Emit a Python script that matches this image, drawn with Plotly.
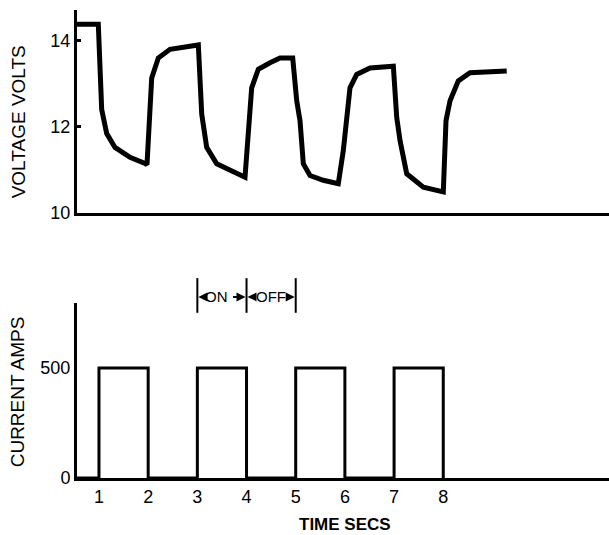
import plotly.graph_objects as go

# ---- data ----
volt_t = [0.553, 0.986, 1.055, 1.157, 1.326, 1.631, 1.936, 1.976,
          2.072, 2.206, 2.444, 3.020,
          3.089, 3.190, 3.394, 3.731, 3.969,
          4.105, 4.240, 4.477, 4.681, 4.939,
          5.020, 5.087, 5.155, 5.291, 5.561, 5.866,
          5.968, 6.104, 6.240, 6.511, 6.985,
          7.054, 7.121, 7.257, 7.595, 8.001,
          8.056, 8.138, 8.306, 8.544, 9.290]
volt_v = [14.37, 14.37, 12.40, 11.84, 11.52, 11.29, 11.15, 11.12,
          13.13, 13.59, 13.79, 13.89,
          12.29, 11.52, 11.14, 10.95, 10.83,
          12.90, 13.33, 13.48, 13.59, 13.59,
          12.60, 12.14, 11.14, 10.87, 10.76, 10.68,
          11.45, 12.90, 13.21, 13.36, 13.40,
          12.21, 11.68, 10.91, 10.60, 10.49,
          12.14, 12.60, 13.06, 13.25, 13.29]

cur_t = [0.553, 1, 1, 2, 2, 3, 3, 4, 4, 5, 5, 6, 6, 7, 7, 8, 8]
cur_a = [0, 0, 500, 500, 0, 0, 500, 500, 0, 0, 500, 500, 0, 0, 500, 500, 0]

volt_ticks = [10, 12, 14]
cur_ticks = [0, 500]
time_ticks = [1, 2, 3, 4, 5, 6, 7, 8]

on_off_bars = [3, 4, 5]
FONT = "Liberation Sans, Arial, sans-serif"

fig = go.Figure()
fig.add_trace(go.Scatter(x=volt_t, y=volt_v, mode="lines",
                         line=dict(color="black", width=5),
                         xaxis="x", yaxis="y", showlegend=False, hoverinfo="skip"))
fig.add_trace(go.Scatter(x=cur_t, y=cur_a, mode="lines",
                         line=dict(color="black", width=3),
                         xaxis="x2", yaxis="y2", showlegend=False, hoverinfo="skip"))

for b in on_off_bars:
    fig.add_shape(type="line", xref="x2", yref="paper", x0=b, x1=b,
                  y0=0.353, y1=0.427, line=dict(color="black", width=2))

MARK_Y = 0.387
# arrowheads: (tip x, tail offset in px)
arrows = [(3, 6), (4, -15), (4, 6), (5, -6)]
for tip, off in arrows:
    fig.add_annotation(x=tip, y=MARK_Y, xref="x2", yref="paper", text="",
                       showarrow=True, axref="pixel", ayref="pixel", ax=off, ay=0,
                       arrowhead=2, arrowsize=0.9, arrowwidth=2, arrowcolor="black",
                       standoff=1)

fig.add_annotation(x=3.39, y=MARK_Y, xref="x2", yref="paper", text="ON",
                   showarrow=False, xanchor="center", yanchor="middle",
                   font=dict(size=15, color="black", family=FONT))
fig.add_annotation(x=4.5, y=MARK_Y, xref="x2", yref="paper", text="OFF",
                   showarrow=False, xanchor="center", yanchor="middle",
                   font=dict(size=15, color="black", family=FONT))

fig.add_annotation(x=-0.11, y=0.761, xref="paper", yref="paper", text="VOLTAGE VOLTS",
                   textangle=-90, showarrow=False, xanchor="center", yanchor="middle",
                   font=dict(size=19, color="black", family=FONT))
fig.add_annotation(x=-0.112, y=0.184, xref="paper", yref="paper", text="CURRENT AMPS",
                   textangle=-90, showarrow=False, xanchor="center", yanchor="middle",
                   font=dict(size=19, color="black", family=FONT))
fig.add_annotation(x=0.504, y=-0.100, xref="paper", yref="paper", text="<b>TIME SECS</b>",
                   showarrow=False, xanchor="center", yanchor="middle",
                   font=dict(size=17, color="black", family=FONT))

axis_common = dict(showgrid=False, zeroline=False, showline=True, linecolor="black",
                   linewidth=3, color="black")

fig.update_layout(
    width=609, height=535,
    margin=dict(l=77, r=0, t=10, b=57),
    paper_bgcolor="white", plot_bgcolor="white",
    font=dict(family=FONT, size=18, color="black"),
    xaxis=dict(domain=[0, 1], range=[0.553, 11.37], anchor="y",
               showticklabels=False, ticks="", **axis_common),
    yaxis=dict(domain=[0.566, 1], range=[10, 14.7], anchor="x",
               tickvals=volt_ticks, ticks="inside", ticklen=4, tickwidth=3,
               tickfont=dict(size=18), **axis_common),
    xaxis2=dict(domain=[0, 1], range=[0.553, 11.37], anchor="y2",
                tickvals=time_ticks, ticks="",
                tickfont=dict(size=18), **axis_common),
    yaxis2=dict(domain=[0, 0.374], range=[0, 795], anchor="x2",
                tickvals=cur_ticks, ticks="", tickfont=dict(size=18), **axis_common),
)

fig.write_html("out.html")
